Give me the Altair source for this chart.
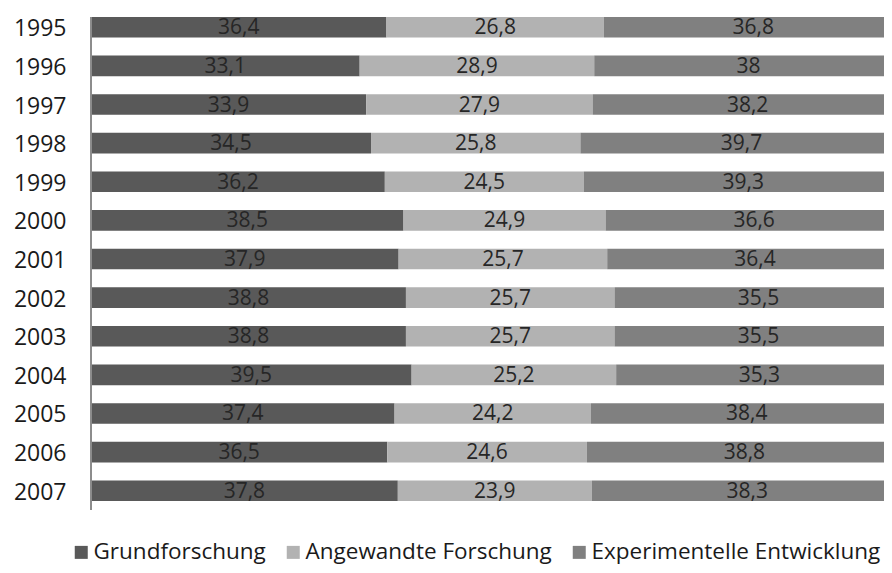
import altair as alt
import pandas as pd

years = ["1995", "1996", "1997", "1998", "1999", "2000", "2001", "2002", "2003", "2004", "2005", "2006", "2007"]
grund = [36.4, 33.1, 33.9, 34.5, 36.2, 38.5, 37.9, 38.8, 38.8, 39.5, 37.4, 36.5, 37.8]
angew = [26.8, 28.9, 27.9, 25.8, 24.5, 24.9, 25.7, 25.7, 25.7, 25.2, 24.2, 24.6, 23.9]
exper = [36.8, 38.0, 38.2, 39.7, 39.3, 36.6, 36.4, 35.5, 35.5, 35.3, 38.4, 38.8, 38.3]
series = ["Grundforschung", "Angewandte Forschung", "Experimentelle Entwicklung"]
colors = ["#595959", "#b2b2b2", "#808080"]

rows = []
for i, y in enumerate(years):
    for k, (s, vals) in enumerate(zip(series, [grund, angew, exper])):
        rows.append({"Jahr": y, "Serie": s, "Wert": vals[i], "ord": k})
df = pd.DataFrame(rows)

FONT = "Open Sans"
XMAX = 97.7  # the reference crops the plot at the right edge

base = alt.Chart(df).transform_stack(
    stack="Wert", groupby=["Jahr"], as_=["x0", "x1"], sort=[alt.SortField("ord", order="ascending")]
).transform_calculate(
    mid="(datum.x0 + datum.x1) / 2",
    lab="replace(format(datum.Wert, '.1~f'), '.', ',')"
)

xscale = alt.Scale(domain=[0, XMAX], nice=False)
yscale = alt.Scale(paddingInner=0.469, paddingOuter=0.233)

bars = base.mark_bar(clip=True).encode(
    x=alt.X("x0:Q", scale=xscale, axis=None),
    x2="x1:Q",
    y=alt.Y("Jahr:N", sort=years, title=None, scale=yscale,
            axis=alt.Axis(labelFont=FONT, labelFontSize=23, labelColor="#1a1a1a",
                          labelPadding=25, ticks=False, domain=False,
                          labelAlign="right", labelOffset=2)),
    color=alt.Color("Serie:N", sort=series,
                    scale=alt.Scale(domain=series, range=colors),
                    legend=alt.Legend(title=None, orient="none", direction="horizontal",
                                      legendX=-21, legendY=533, padding=0, symbolType="square",
                                      symbolSize=169, symbolStrokeWidth=0,
                                      labelFont=FONT, labelFontSize=22.5, labelColor="#1a1a1a",
                                      columnPadding=16, labelOffset=1, labelLimit=500)),
)

texts = base.mark_text(font=FONT, fontSize=21, color="#262626", baseline="middle", dy=1, clip=True).encode(
    x=alt.X("mid:Q", scale=xscale),
    y=alt.Y("Jahr:N", sort=years, scale=yscale),
    text="lab:N",
)

axisline = alt.Chart(df).mark_rule(color="#8c8c8c", strokeWidth=1).encode(
    x=alt.value(0), y=alt.value(9), y2=alt.value(502)
)

chart = alt.layer(bars, texts, axisline).properties(
    width=793, height=502,
    autosize=alt.AutoSizeParams(type="none"),
    padding={"left": 83, "top": 0, "right": 0, "bottom": 55},
).configure_view(stroke=None)

chart.save("out.html", embed_options={"renderer": "svg", "actions": False})
